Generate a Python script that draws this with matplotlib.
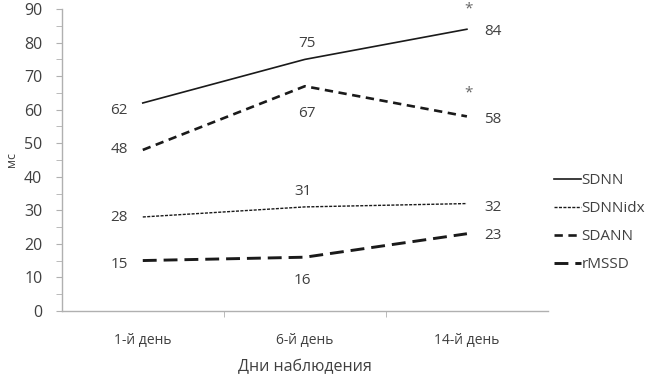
import matplotlib
matplotlib.use("Agg")
import matplotlib.pyplot as plt
from matplotlib.ticker import MultipleLocator, FixedLocator, NullFormatter

plt.rcParams['font.family'] = ['Open Sans', 'DejaVu Sans']
plt.rcParams['lines.scale_dashes'] = False

categories = ["1-й день", "6-й день", "14-й день"]
sdnn = [62, 75, 84]
sdnnidx = [28, 31, 32]
sdann = [48, 67, 58]
rmssd = [15, 16, 23]
series_names = ["SDNN", "SDNNidx", "SDANN", "rMSSD"]
star_points = [("SDNN", 2), ("SDANN", 2)]

data = {"SDNN": sdnn, "SDNNidx": sdnnidx, "SDANN": sdann, "rMSSD": rmssd}
styles = {
    "SDNN": dict(lw=1.2, ls="-"),
    "SDNNidx": dict(lw=1.0, ls=(0, (2.2, 1.0))),
    "SDANN": dict(lw=1.9, ls=(0, (6, 4))),
    "rMSSD": dict(lw=2.1, ls=(0, (10, 5))),
}
PX = 0.72  # pixels -> points at 100 dpi
VC = -3    # visual centering correction (px)
# label placement per series per point: (dx px, dy px (up), ha)
placements = {
    "SDNN": [(-15, -5, "right"), (2, 19, "center"), (17, 1, "left")],
    "SDNNidx": [(-15, 2, "right"), (-2, 18, "center"), (17, -1, "left")],
    "SDANN": [(-15, 3, "right"), (2, -24, "center"), (17, 0, "left")],
    "rMSSD": [(-15, -1, "right"), (-2, -20, "center"), (17, 1, "left")],
}
star_offsets = {"SDNN": (2, 20), "SDANN": (2, 23)}

fig = plt.figure(figsize=(6.5, 3.8), dpi=100)
ax = fig.add_axes([0.095, 0.182, 0.748, 0.794])
x = list(range(len(categories)))
grey_text = "#404040"
handles = []
for name in series_names:
    h, = ax.plot(x, data[name], color="#1a1a1a", label=name, **styles[name])
    handles.append(h)
    for i, v in enumerate(data[name]):
        dx, dy, ha = placements[name][i]
        ax.annotate(str(v), (i, v), xytext=(dx * PX, (dy + VC) * PX), textcoords="offset points",
                    ha=ha, va="center", fontsize=11, color=grey_text)

for name, i in star_points:
    v = data[name][i]
    dx, dy = star_offsets[name]
    ax.annotate("*", (i, v), xytext=(dx * PX, dy * PX), textcoords="offset points",
                ha="center", va="center", fontsize=11, color="#666666")

ax.set_xlim(-0.5, 2.5)
ax.set_ylim(0, 90)
ax.yaxis.set_major_locator(MultipleLocator(10))
ax.yaxis.set_minor_locator(MultipleLocator(5))
ax.set_xticks(x)
ax.set_xticklabels(categories, fontsize=10, color=grey_text)
ax.xaxis.set_minor_locator(FixedLocator([0.5, 1.5]))
ax.tick_params(axis="x", which="major", length=0, pad=16)
ax.tick_params(axis="x", which="minor", length=4, color="#b0b0b0", direction="out")
ax.tick_params(axis="y", which="both", length=4, color="#b0b0b0", labelsize=11.5,
               labelcolor=grey_text, pad=10)
ax.yaxis.set_minor_formatter(NullFormatter())
for s in ["top", "right"]:
    ax.spines[s].set_visible(False)
for s in ["left", "bottom"]:
    ax.spines[s].set_color("#b0b0b0")
    ax.spines[s].set_linewidth(1.0)

ax.set_ylabel("мс", fontsize=9, color=grey_text, labelpad=4)
ax.set_xlabel("Дни наблюдения", fontsize=11.5, color=grey_text, labelpad=8)

leg = fig.legend(handles=handles, labels=series_names, loc="center left",
                 bbox_to_anchor=(0.843, 0.414), frameon=False, fontsize=11,
                 handlelength=1.75, handletextpad=0.05, labelspacing=0.84,
                 borderpad=0.4, borderaxespad=0, labelcolor=grey_text)

fig.savefig("out.png", dpi=100)
